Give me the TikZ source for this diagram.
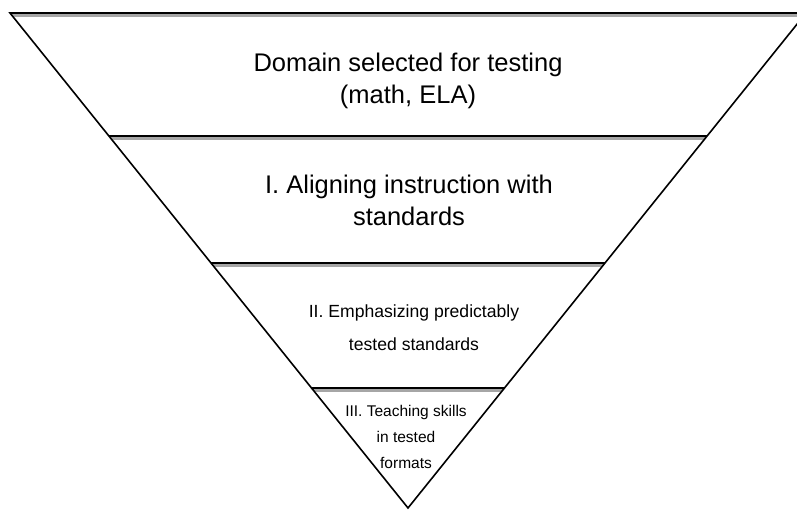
\documentclass[tikz,border=0pt]{standalone}
\usepackage{fontspec}
\setmainfont{Liberation Sans}
\usetikzlibrary{calc}

\tikzset{
  edge line/.style={line width=1.6pt, black},
  shade band/.style={fill=black!35},
  level text/.style={align=center, inner sep=0pt}
}

\begin{document}
\begin{tikzpicture}[x=1pt,y=-1pt]
\useasboundingbox (0,0) rectangle (797,510);
\clip (0,0) rectangle (797,510);
\coordinate (tl) at (10,13);
\coordinate (tr) at (806,13);
\coordinate (apex) at (408,508);

% grey edge under each band line
\begin{scope}
\clip (tl) -- (tr) -- (apex) -- cycle;
\foreach \y in {13,136,263,388}
  \fill[shade band] (0,\y) rectangle (800,\y+4);
\end{scope}

\draw[edge line] (tl) -- (apex) -- (tr) -- cycle;
\foreach \y in {136,263,388}
  \draw[edge line] ($(tl)!{(\y-13)/495}!(apex)$) -- ($(tr)!{(\y-13)/495}!(apex)$);

\node[level text, font=\fontsize{25.5}{32}\selectfont] (domain) at (408,81) {Domain selected for testing\\(math, ELA)};
\node[level text, font=\fontsize{25.5}{32}\selectfont] (aligning) at (409,200) {I. Aligning instruction with\\standards};
\node[level text, font=\fontsize{17.6}{33}\selectfont] (emphasis) at (414,328) {II. Emphasizing predictably\\tested standards};
\node[level text, font=\fontsize{15.5}{26}\selectfont] (teaching) at (406,437) {III. Teaching skills\\in tested\\formats};

\end{tikzpicture}
\end{document}
